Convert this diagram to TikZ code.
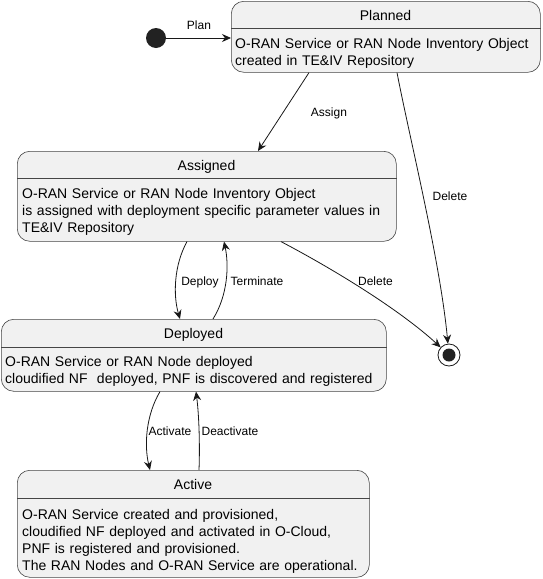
\documentclass[tikz,border=0pt]{standalone}
\usepackage{fontspec}
\setmainfont{Liberation Sans}
\usetikzlibrary{arrows.meta,calc}
\definecolor{boxfill}{HTML}{F1F1F1}
\definecolor{boxline}{HTML}{181818}
\definecolor{dotfill}{HTML}{222222}
\begin{document}
\begin{tikzpicture}[x=1pt,y=-1pt,
 statebox/.style={draw=boxline!80!white, line width=0.6pt, fill=boxfill, rounded corners=12.5pt, anchor=north west, inner sep=0pt},
 divider/.style={draw=boxline!80!white, line width=0.6pt},
 ttl/.style={font=\fontsize{14}{17}\selectfont, anchor=base, inner sep=0pt},
 body/.style={font=\fontsize{14}{17.2}\selectfont, anchor=base west, inner sep=0pt, text width=420pt, align=left},
 lbl/.style={font=\fontsize{12}{14}\selectfont, inner sep=0pt, anchor=base},
 arr/.style={draw=boxline, line width=0.8pt, -{Stealth[length=9pt,width=8pt,inset=3pt]}}
]
\useasboundingbox (0,0) rectangle (543,579);

% Planned
\node[statebox, minimum width=309pt, minimum height=71pt] (planned) at (231,1) {};
\node[ttl] (plannedT) at (385.5,20) {Planned};
\draw[divider] (planned.west |- 0,28.5) -- (planned.east |- 0,28.5);
\node[body] (plannedB) at (235,48) {O-RAN Service or RAN Node Inventory Object\\created in TE\&IV Repository};

% Assigned
\node[statebox, minimum width=379pt, minimum height=90pt] (assigned) at (17,151) {};
\node[ttl] (assignedT) at (206.5,170) {Assigned};
\draw[divider] (assigned.west |- 0,178.5) -- (assigned.east |- 0,178.5);
\node[body] (assignedB) at (22,198) {O-RAN Service or RAN Node Inventory Object\\is assigned with deployment specific parameter values in\\TE\&IV Repository};

% Deployed
\node[statebox, minimum width=385pt, minimum height=72pt] (deployed) at (1,319) {};
\node[ttl] (deployedT) at (193.5,338) {Deployed};
\draw[divider] (deployed.west |- 0,347) -- (deployed.east |- 0,347);
\node[body] (deployedB) at (5,366) {O-RAN Service or RAN Node deployed\\cloudified NF\ \ deployed, PNF is discovered and registered};

% Active
\node[statebox, minimum width=352pt, minimum height=107pt] (active) at (17,470) {};
\node[ttl] (activeT) at (193,489) {Active};
\draw[divider] (active.west |- 0,498) -- (active.east |- 0,498);
\node[body] (activeB) at (22,519) {O-RAN Service created and provisioned,\\cloudified NF deployed and activated in O-Cloud,\\PNF is registered and provisioned.\\The RAN Nodes and O-RAN Service are operational.};

% start and end
\node[circle, fill=dotfill, minimum size=20pt, inner sep=0pt] (start) at (156,38) {};
\node[circle, draw=boxline, line width=0.8pt, minimum size=22pt, inner sep=0pt,
  path picture={\fill[dotfill] (path picture bounding box.center) circle (6.5pt);}] (final) at (449,355) {};

% connectors
\draw[arr] (start) -- (start -| planned.west);
\draw[arr] ([xshift=78pt]planned.south west) -- ([xshift=241pt]assigned.north west);
\draw[arr] ([xshift=166pt]planned.south west) .. controls (410,140) and (440,260) .. (final);
\draw[arr] ([xshift=170pt]assigned.south west) .. controls (174,265) and (173,295) .. ([xshift=179pt]deployed.north west);
\draw[arr] ([xshift=212pt]deployed.north west) .. controls (228,295) and (229,265) .. ([xshift=207pt]assigned.south west);
\draw[arr] ([xshift=264pt]assigned.south west) .. controls (335,270) and (400,310) .. (final);
\draw[arr] ([xshift=159pt]deployed.south west) .. controls (146,415) and (144,445) .. ([xshift=133pt]active.north west);
\draw[arr] ([xshift=182pt]active.north west) .. controls (200,445) and (199,415) .. ([xshift=195pt]deployed.south west);

% labels
\node[lbl] (lplan) at (199,29.5) {Plan};
\node[lbl] (lassign) at (329,116.5) {Assign};
\node[lbl] (ldel1) at (450,200.5) {Delete};
\node[lbl] (ldeploy) at (200,285) {Deploy};
\node[lbl] (lterm) at (257,285) {Terminate};
\node[lbl] (ldel2) at (375.5,285) {Delete};
\node[lbl] (lact) at (170,435.5) {Activate};
\node[lbl] (ldeact) at (230,435.5) {Deactivate};
\end{tikzpicture}
\end{document}
